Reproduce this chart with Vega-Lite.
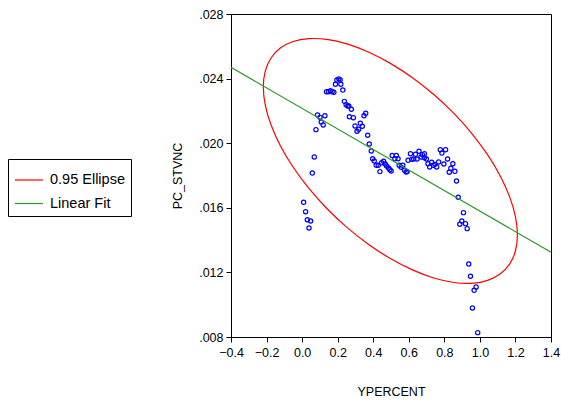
{
  "$schema": "https://vega.github.io/schema/vega-lite/v6.json",
  "width": 320,
  "height": 323,
  "autosize": "none",
  "padding": {"left": 231, "top": 14, "right": 10, "bottom": 64},
  "background": "white",
  "config": {
    "view": {"stroke": "black", "strokeWidth": 1},
    "font": "Liberation Sans",
    "axis": {"grid": false, "domainColor": "black", "tickColor": "black", "labelColor": "black", "titleColor": "black", "labelFont": "Liberation Sans", "titleFont": "Liberation Sans", "labelFontSize": 12.5, "titleFontSize": 12.5, "titleFontWeight": "normal", "tickSize": 5, "labelOverlap": false},
    "legend": {"symbolType": "M-1,0H1", "symbolFillColor": "transparent"}
  },
  "datasets": {
    "pts": [
      {"x": 0.0085, "y": 0.01634}, {"x": 0.0197, "y": 0.01576}, {"x": 0.0292, "y": 0.01526}, {"x": 0.0477, "y": 0.01518},
      {"x": 0.0387, "y": 0.01475}, {"x": 0.0572, "y": 0.01815}, {"x": 0.0684, "y": 0.01915}, {"x": 0.0779, "y": 0.02084},
      {"x": 0.0868, "y": 0.02175}, {"x": 0.1003, "y": 0.0216}, {"x": 0.1076, "y": 0.02131}, {"x": 0.1187, "y": 0.02113},
      {"x": 0.1283, "y": 0.0217}, {"x": 0.1372, "y": 0.02319}, {"x": 0.1484, "y": 0.02319}, {"x": 0.1596, "y": 0.02325},
      {"x": 0.1691, "y": 0.02319}, {"x": 0.1786, "y": 0.02315}, {"x": 0.1954, "y": 0.02391}, {"x": 0.2066, "y": 0.02398},
      {"x": 0.2139, "y": 0.02391}, {"x": 0.1876, "y": 0.02365}, {"x": 0.2178, "y": 0.02365}, {"x": 0.229, "y": 0.02329},
      {"x": 0.2379, "y": 0.02259}, {"x": 0.2475, "y": 0.02238}, {"x": 0.257, "y": 0.0223}, {"x": 0.2626, "y": 0.0223},
      {"x": 0.2771, "y": 0.0221}, {"x": 0.2659, "y": 0.02164}, {"x": 0.2883, "y": 0.02158}, {"x": 0.2978, "y": 0.02107},
      {"x": 0.3387, "y": 0.02105}, {"x": 0.309, "y": 0.02074}, {"x": 0.3185, "y": 0.02086}, {"x": 0.3275, "y": 0.02123},
      {"x": 0.3482, "y": 0.0217}, {"x": 0.3577, "y": 0.02185}, {"x": 0.3689, "y": 0.02049}, {"x": 0.3778, "y": 0.01995},
      {"x": 0.389, "y": 0.01952}, {"x": 0.3969, "y": 0.01904}, {"x": 0.4058, "y": 0.0189}, {"x": 0.417, "y": 0.01863},
      {"x": 0.4282, "y": 0.01863}, {"x": 0.4377, "y": 0.01824}, {"x": 0.4472, "y": 0.01879}, {"x": 0.4584, "y": 0.01888},
      {"x": 0.4674, "y": 0.01871}, {"x": 0.4752, "y": 0.01859}, {"x": 0.4864, "y": 0.01846}, {"x": 0.4937, "y": 0.01836},
      {"x": 0.501, "y": 0.01828}, {"x": 0.5066, "y": 0.01924}, {"x": 0.5217, "y": 0.01904}, {"x": 0.5301, "y": 0.01924},
      {"x": 0.5396, "y": 0.01904}, {"x": 0.5457, "y": 0.01863}, {"x": 0.5569, "y": 0.01851}, {"x": 0.5664, "y": 0.01863},
      {"x": 0.5759, "y": 0.01832}, {"x": 0.5849, "y": 0.01822}, {"x": 0.5905, "y": 0.01824}, {"x": 0.5961, "y": 0.01894},
      {"x": 0.6095, "y": 0.01935}, {"x": 0.6168, "y": 0.019}, {"x": 0.628, "y": 0.01902}, {"x": 0.6375, "y": 0.01931},
      {"x": 0.6465, "y": 0.01902}, {"x": 0.6576, "y": 0.0195}, {"x": 0.6688, "y": 0.01915}, {"x": 0.6767, "y": 0.01929},
      {"x": 0.6879, "y": 0.01935}, {"x": 0.6879, "y": 0.0191}, {"x": 0.6991, "y": 0.01902}, {"x": 0.708, "y": 0.01873},
      {"x": 0.7175, "y": 0.01853}, {"x": 0.7287, "y": 0.01882}, {"x": 0.7382, "y": 0.01863}, {"x": 0.7472, "y": 0.01869},
      {"x": 0.7567, "y": 0.01853}, {"x": 0.7679, "y": 0.01884}, {"x": 0.7774, "y": 0.0196}, {"x": 0.7864, "y": 0.01939},
      {"x": 0.7975, "y": 0.01871}, {"x": 0.8071, "y": 0.0196}, {"x": 0.8183, "y": 0.01902}, {"x": 0.8278, "y": 0.0182},
      {"x": 0.8367, "y": 0.01845}, {"x": 0.8479, "y": 0.01873}, {"x": 0.8591, "y": 0.01826}, {"x": 0.8686, "y": 0.01766},
      {"x": 0.8781, "y": 0.01665}, {"x": 0.9078, "y": 0.0157}, {"x": 0.8983, "y": 0.01518}, {"x": 0.8871, "y": 0.01498},
      {"x": 0.919, "y": 0.01502}, {"x": 0.9285, "y": 0.01471}, {"x": 0.9374, "y": 0.01252}, {"x": 0.947, "y": 0.01176},
      {"x": 0.9789, "y": 0.0111}, {"x": 0.9677, "y": 0.01089}, {"x": 0.9582, "y": 0.0098}, {"x": 0.9878, "y": 0.00827}
    ],
    "ellipse": [
      {"i": 0, "x": 1.2111, "y": 0.014318, "series": "0.95 Ellipse"},
      {"i": 1, "x": 1.2002, "y": 0.013339, "series": "0.95 Ellipse"},
      {"i": 2, "x": 1.168, "y": 0.012527, "series": "0.95 Ellipse"},
      {"i": 3, "x": 1.1153, "y": 0.01191, "series": "0.95 Ellipse"},
      {"i": 4, "x": 1.0439, "y": 0.011506, "series": "0.95 Ellipse"},
      {"i": 5, "x": 0.9558, "y": 0.011326, "series": "0.95 Ellipse"},
      {"i": 6, "x": 0.8538, "y": 0.011376, "series": "0.95 Ellipse"},
      {"i": 7, "x": 0.7409, "y": 0.011654, "series": "0.95 Ellipse"},
      {"i": 8, "x": 0.6206, "y": 0.012154, "series": "0.95 Ellipse"},
      {"i": 9, "x": 0.4965, "y": 0.012857, "series": "0.95 Ellipse"},
      {"i": 10, "x": 0.3724, "y": 0.013744, "series": "0.95 Ellipse"},
      {"i": 11, "x": 0.2521, "y": 0.014788, "series": "0.95 Ellipse"},
      {"i": 12, "x": 0.1392, "y": 0.015958, "series": "0.95 Ellipse"},
      {"i": 13, "x": 0.0372, "y": 0.017216, "series": "0.95 Ellipse"},
      {"i": 14, "x": -0.0509, "y": 0.018526, "series": "0.95 Ellipse"},
      {"i": 15, "x": -0.1223, "y": 0.019846, "series": "0.95 Ellipse"},
      {"i": 16, "x": -0.175, "y": 0.021139, "series": "0.95 Ellipse"},
      {"i": 17, "x": -0.2072, "y": 0.022363, "series": "0.95 Ellipse"},
      {"i": 18, "x": -0.2181, "y": 0.023482, "series": "0.95 Ellipse"},
      {"i": 19, "x": -0.2072, "y": 0.024461, "series": "0.95 Ellipse"},
      {"i": 20, "x": -0.175, "y": 0.025273, "series": "0.95 Ellipse"},
      {"i": 21, "x": -0.1223, "y": 0.02589, "series": "0.95 Ellipse"},
      {"i": 22, "x": -0.0509, "y": 0.026294, "series": "0.95 Ellipse"},
      {"i": 23, "x": 0.0372, "y": 0.026474, "series": "0.95 Ellipse"},
      {"i": 24, "x": 0.1392, "y": 0.026424, "series": "0.95 Ellipse"},
      {"i": 25, "x": 0.2521, "y": 0.026146, "series": "0.95 Ellipse"},
      {"i": 26, "x": 0.3724, "y": 0.025646, "series": "0.95 Ellipse"},
      {"i": 27, "x": 0.4965, "y": 0.024943, "series": "0.95 Ellipse"},
      {"i": 28, "x": 0.6206, "y": 0.024056, "series": "0.95 Ellipse"},
      {"i": 29, "x": 0.7409, "y": 0.023012, "series": "0.95 Ellipse"},
      {"i": 30, "x": 0.8538, "y": 0.021842, "series": "0.95 Ellipse"},
      {"i": 31, "x": 0.9558, "y": 0.020584, "series": "0.95 Ellipse"},
      {"i": 32, "x": 1.0439, "y": 0.019274, "series": "0.95 Ellipse"},
      {"i": 33, "x": 1.1153, "y": 0.017954, "series": "0.95 Ellipse"},
      {"i": 34, "x": 1.168, "y": 0.016661, "series": "0.95 Ellipse"},
      {"i": 35, "x": 1.2002, "y": 0.015437, "series": "0.95 Ellipse"}
    ],
    "fit": [
      {"x": -0.4, "y": 0.0247, "series": "Linear Fit"},
      {"x": 1.4, "y": 0.01325, "series": "Linear Fit"}
    ]
  },
  "layer": [
    {
      "data": {"name": "pts"},
      "mark": {"type": "point", "shape": "circle", "filled": false, "stroke": "#0000ff", "strokeWidth": 1.2, "size": 18, "opacity": 1},
      "encoding": {
        "x": {"field": "x", "type": "quantitative", "scale": {"domain": [-0.4, 1.4], "nice": false, "zero": false},
          "axis": {"title": "YPERCENT", "values": [-0.4, -0.2, 0, 0.2, 0.4, 0.6, 0.8, 1.0, 1.2, 1.4], "tickCount": 10, "format": ".1f", "labelPadding": 4, "titlePadding": 27, "labelFlush": false, "labelOverlap": false}},
        "y": {"field": "y", "type": "quantitative", "scale": {"domain": [0.008, 0.028], "nice": false, "zero": false},
          "axis": {"title": "PC_STVNC", "values": [0.008, 0.012, 0.016, 0.02, 0.024, 0.028], "tickCount": 6, "labelExpr": "replace(format(datum.value, '.3f'), '0.', '.')", "labelPadding": 3, "titlePadding": 14, "labelFlush": false, "labelOverlap": false}}
      }
    },
    {
      "data": {"name": "ellipse"},
      "mark": {"type": "line", "interpolate": "cardinal-closed", "strokeWidth": 1.2, "clip": true},
      "encoding": {
        "x": {"field": "x", "type": "quantitative"},
        "y": {"field": "y", "type": "quantitative"},
        "order": {"field": "i", "type": "quantitative"},
        "color": {"field": "series", "type": "nominal",
          "scale": {"domain": ["0.95 Ellipse", "Linear Fit"], "range": ["#ff0000", "#2e9a2e"]},
          "legend": {"title": null, "orient": "none", "legendX": -223, "legendY": 145, "symbolType": "M-1,0H1", "symbolSize": 784, "symbolStrokeWidth": 1.2,
            "labelFontSize": 14.5, "labelFont": "Liberation Sans", "labelColor": "black", "strokeColor": "black", "padding": 6, "rowPadding": 1.5, "labelOffset": 6, "fillColor": "white"}}
      }
    },
    {
      "data": {"name": "fit"},
      "mark": {"type": "line", "strokeWidth": 1.2, "clip": true},
      "encoding": {
        "x": {"field": "x", "type": "quantitative"},
        "y": {"field": "y", "type": "quantitative"},
        "color": {"field": "series", "type": "nominal"}
      }
    }
  ]
}
